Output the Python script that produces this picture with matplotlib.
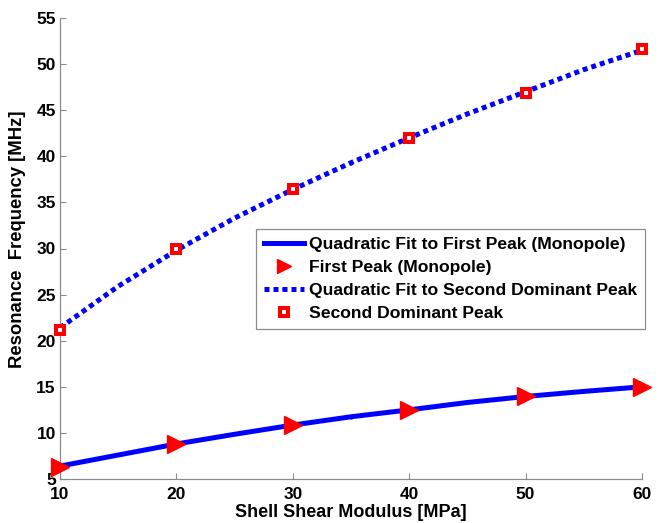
import matplotlib
matplotlib.use("Agg")
import matplotlib.pyplot as plt

plt.rcParams['font.family'] = ['Liberation Sans', 'DejaVu Sans']
plt.rcParams['font.weight'] = 'bold'

# shell shear modulus (MPa)
modulus = [10, 20, 30, 40, 50, 60]
first_peak = [6.3, 8.8, 10.85, 12.45, 13.95, 15.0]
second_peak = [21.2, 29.9, 36.4, 42.0, 46.9, 51.6]

# quadratic fit curves
fit_x = [10, 15, 20, 25, 30, 35, 40, 45, 50, 55, 60]
fit_first = [6.4, 7.6, 8.8, 9.85, 10.85, 11.75, 12.5, 13.3, 13.95, 14.5, 15.0]
fit_second = [21.4, 25.9, 29.8, 33.3, 36.4, 39.3, 42.0, 44.6, 47.0, 49.4, 51.5]

labels = ['Quadratic Fit to First Peak (Monopole)', 'First Peak (Monopole)',
          'Quadratic Fit to Second Dominant Peak', 'Second Dominant Peak']

fig = plt.figure(figsize=(6.67, 5.23), dpi=100)
ax = fig.add_axes([60 / 667, 1 - 479 / 523, 582 / 667, 461 / 523])

ax.plot(fit_x, fit_first, '-', color='#0000ff', linewidth=3.6, marker='.', markersize=4,
        markevery=[5], label=labels[0], zorder=2)
ax.plot(modulus, first_peak, linestyle='none', marker='>', color='#ff0000', markersize=13,
        label=labels[1], zorder=3, clip_on=False)
ax.plot(fit_x, fit_second, linestyle=(0, (1, 0.8)), color='#0000ff', linewidth=3.6,
        marker='.', markersize=4, markevery=[5], label=labels[2], zorder=2)
ax.plot(modulus, second_peak, linestyle='none', marker='s', markerfacecolor='white',
        markeredgecolor='#ff0000', markeredgewidth=2.9, markersize=5.2,
        label=labels[3], zorder=3, clip_on=False)

ax.set_xlim(10, 60)
ax.set_ylim(5, 55)
ax.set_xticks(modulus)
ax.set_yticks(range(5, 56, 5))

for side in ['top', 'right']:
    ax.spines[side].set_visible(False)
for side in ['left', 'bottom']:
    ax.spines[side].set_color('#8c8c8c')
    ax.spines[side].set_linewidth(0.9)
ax.tick_params(direction='in', length=4, color='#8c8c8c', labelsize=12.5)
ax.tick_params(axis='x', pad=6)
ax.tick_params(axis='y', pad=3)
for lab in ax.get_xticklabels() + ax.get_yticklabels():
    lab.set_fontweight('bold')

ax.set_xlabel('Shell Shear Modulus [MPa]', fontsize=13, fontweight='bold', labelpad=1)
ax.set_ylabel('Resonance  Frequency [MHz]', fontsize=13.3, fontweight='bold')
ax.yaxis.set_label_coords(-0.058, 0.52)

leg = fig.legend(loc='upper left', bbox_to_anchor=(256 / 667, 1 - 229 / 523),
                 handlelength=2.3, handletextpad=0.3, labelspacing=0.44,
                 borderpad=0.45, borderaxespad=0, fancybox=False, framealpha=1,
                 edgecolor='#8c8c8c', prop={'weight': 'bold', 'size': 12.6})
leg.get_frame().set_linewidth(0.9)
leg.legend_handles[1].set_markersize(10)

fig.savefig('out.png', dpi=100)
